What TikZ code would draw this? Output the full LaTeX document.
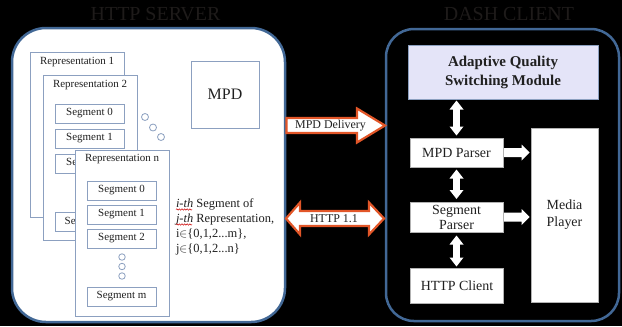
\documentclass[tikz,border=0pt]{standalone}
\usepackage{fontspec}
\setmainfont{Liberation Serif}
\usetikzlibrary{calc,decorations.pathmorphing}

\definecolor{panelblue}{RGB}{66,104,150}
\definecolor{boxline}{RGB}{140,160,192}
\definecolor{arrorange}{RGB}{226,86,40}
\definecolor{lavender}{RGB}{228,228,248}
\definecolor{inktext}{RGB}{32,32,32}
\definecolor{titleink}{RGB}{30,27,26}

% double headed vertical block arrow, tip #1 on top, tip #2 below
\newcommand\blockVV[2]{%
  \fill[white] (#1) -- ($(#1)+(7,9)$) -- ($(#1)+(3.4,9)$) -- ($(#2)+(3.4,-9)$)
    -- ($(#2)+(7,-9)$) -- (#2) -- ($(#2)+(-7,-9)$) -- ($(#2)+(-3.4,-9)$)
    -- ($(#1)+(-3.4,9)$) -- ($(#1)+(-7,9)$) -- cycle;}
% right pointing block arrow from #1 to tip #2
\newcommand\blockR[2]{%
  \fill[white] ($(#1)+(0,-4.5)$) -- ($(#2)+(-8,-4.5)$) -- ($(#2)+(-8,-8)$) -- (#2)
    -- ($(#2)+(-8,8)$) -- ($(#2)+(-8,4.5)$) -- ($(#1)+(0,4.5)$) -- cycle;}

\begin{document}
\begin{tikzpicture}[x=1bp,y=-1bp,
  every node/.style={inner sep=0pt,outer sep=0pt},
  panel/.style={draw=panelblue,line width=2.5bp,anchor=north west},
  repbox/.style={draw=boxline,line width=0.8bp,fill=white,minimum width=94bp,anchor=north west},
  replabel/.style={font=\fontsize{11}{13}\selectfont,text=inktext,anchor=center},
  segbox/.style={draw=boxline,line width=0.8bp,fill=white,minimum width=69bp,minimum height=19bp,
    font=\fontsize{11}{13}\selectfont,text=inktext},
  dot/.style={draw=boxline,line width=0.8bp,fill=white,circle,minimum size=7bp},
  note/.style={font=\fontsize{12.5}{15}\selectfont,text=inktext,anchor=base west},
  squig/.style={draw=red!80!black,line width=0.5bp,decorate,
    decoration={snake,amplitude=0.7bp,segment length=2.6bp}},
  orangearrow/.style={draw=arrorange,line width=2.2bp,fill=white,line join=miter},
  arrlabel/.style={font=\fontsize{12}{14}\selectfont,text=inktext},
  clientbox/.style={draw=gray!60,line width=0.5bp,fill=white,text=inktext,align=center,
    font=\fontsize{14}{15}\selectfont},
  titletext/.style={font=\fontsize{20}{22}\selectfont,text=titleink}]

\fill[black] (0,0) rectangle (622,326);
\useasboundingbox (0,0) rectangle (622,326);

% titles
\node[titletext] (srvtitle) at (155.5,14) {HTTP SERVER};
\node[titletext] (clititle) at (509,14) {DASH CLIENT};

% panels
\node[panel,fill=white,rounded corners=34bp,minimum width=273bp,minimum height=294bp] (srv) at (12,28) {};
\node[panel,fill=black,rounded corners=28bp,minimum width=233bp,minimum height=292bp] (cli) at (386,29) {};

% ---- server side ----
\node[repbox,minimum height=165bp] (rep1) at (30,52) {};
\node[replabel] (rep1t) at ($(rep1.north)+(0,10)$) {Representation 1};

\node[repbox,minimum height=165bp] (rep2) at (43,75) {};
\node[replabel] (rep2t) at ($(rep2.north)+(0,10)$) {Representation 2};
\node[segbox] (r2s0) at (89.5,113.5) {Segment 0};
\node[segbox] (r2s1) at (89.5,138.5) {Segment 1};
\node[segbox] (r2s2) at (89.5,163.5) {Segment 2};
\node[segbox] (r2sm) at (89.5,222) {Segment m};

\node[dot] (d1) at (145,117) {};
\node[dot] (d2) at (153,127.5) {};
\node[dot] (d3) at (161,137) {};

\node[repbox,minimum height=166bp] (repn) at (75,150) {};
\node[replabel] (repnt) at ($(repn.north)+(0,9)$) {Representation n};
\node[segbox] (rns0) at (121.5,190.5) {Segment 0};
\node[segbox] (rns1) at (121.5,214.5) {Segment 1};
\node[segbox] (rns2) at (121.5,238.5) {Segment 2};
\node[dot,minimum size=6.5bp] (e1) at (122,257) {};
\node[dot,minimum size=6.5bp] (e2) at (122,266.5) {};
\node[dot,minimum size=6.5bp] (e3) at (122,276) {};
\node[segbox] (rnsm) at (121.5,296.5) {Segment m};

\node[draw=boxline,line width=0.8bp,fill=white,minimum width=68bp,minimum height=67bp,
  font=\fontsize{16}{18}\selectfont,text=inktext] (mpd) at (225,94.5) {MPD};

\node[note] (l1) at (176,207) {\textit{i-th} Segment of};
\node[note] (l2) at (176,222) {\textit{j-th} Representation,};
\node[note] (l3) at (176,237) {i$\in$\{0,1,2...m\},};
\node[note] (l4) at (176,252) {j$\in$\{0,1,2...n\}};
\draw[squig] ($(l1.base west)+(0,2.5)$) -- ++(16,0);
\draw[squig] ($(l2.base west)+(0,2.5)$) -- ++(16,0);

% ---- transfer arrows ----
\coordinate (mdS) at ($(srv.east |- 0,125.5)+(1.5,0)$);
\coordinate (mdT) at ($(cli.west |- 0,125.5)+(-1,0)$);
\draw[orangearrow] ($(mdS)+(0,-7.5)$) -- ($(mdT)+(-28,-7.5)$) -- ($(mdT)+(-28,-17)$) -- (mdT)
  -- ($(mdT)+(-28,17)$) -- ($(mdT)+(-28,7.5)$) -- ($(mdS)+(0,7.5)$) -- cycle;
\node[arrlabel] (mdlab) at (330.5,126) {MPD Delivery};

\coordinate (htL) at ($(srv.east |- 0,218.5)+(1,0)$);
\coordinate (htR) at ($(cli.west |- 0,218.5)+(-2,0)$);
\draw[orangearrow] (htL) -- ($(htL)+(14,-16)$) -- ($(htL)+(14,-7.5)$) -- ($(htR)+(-15,-7.5)$)
  -- ($(htR)+(-15,-16)$) -- (htR) -- ($(htR)+(-15,16)$) -- ($(htR)+(-15,7.5)$)
  -- ($(htL)+(14,7.5)$) -- ($(htL)+(14,16)$) -- cycle;
\node[arrlabel] (htlab) at (334,219) {HTTP 1.1};

% ---- client side ----
\node[draw=boxline,line width=0.8bp,fill=lavender,minimum width=190bp,minimum height=54bp,
  align=center,text=inktext,font=\bfseries\fontsize{15}{19}\selectfont] (aqs) at (503,72)
  {Adaptive Quality\\Switching Module};
\node[clientbox,minimum width=93bp,minimum height=29bp] (mpdp) at (456.5,152.5) {MPD Parser};
\node[clientbox,minimum width=93bp,minimum height=30bp] (segp) at (456.5,217) {Segment\\Parser};
\node[clientbox,minimum width=93bp,minimum height=35bp] (httpc) at (457,285.5) {HTTP Client};
\node[clientbox,minimum width=67bp,minimum height=174bp,font=\fontsize{14}{17}\selectfont] (mp) at (564.5,215) {Media\\Player};

\path (aqs.south -| mpdp.north) ++(0,1.5) coordinate (v1t);
\path (mpdp.north) ++(0,-2.5) coordinate (v1b);
\path (mpdp.south) ++(0,2.5) coordinate (v2t);
\path (segp.north) ++(0,-3) coordinate (v2b);
\path (segp.south) ++(0,3.5) coordinate (v3t);
\path (httpc.north -| segp.south) ++(0,-1.5) coordinate (v3b);
\blockVV{v1t}{v1b}
\blockVV{v2t}{v2b}
\blockVV{v3t}{v3b}

\path (mpdp.east) ++(1,0) coordinate (h1s);
\path (mpdp.east -| mp.west) ++(-1.5,0) coordinate (h1e);
\path (segp.east) ++(1,0) coordinate (h2s);
\path (segp.east -| mp.west) ++(-1.5,0) coordinate (h2e);
\blockR{h1s}{h1e}
\blockR{h2s}{h2e}

\end{tikzpicture}
\end{document}
